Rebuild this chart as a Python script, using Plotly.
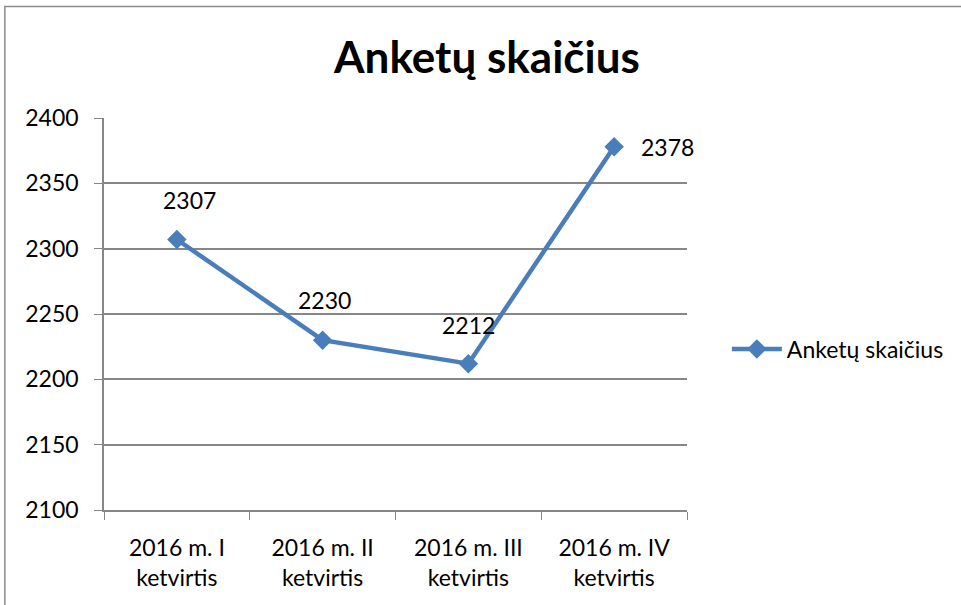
import plotly.graph_objects as go

categories = ["2016 m. I<br>ketvirtis", "2016 m. II<br>ketvirtis", "2016 m. III<br>ketvirtis", "2016 m. IV<br>ketvirtis"]
values = [2307, 2230, 2212, 2378]
series_name = "Anketų skaičius"
title_text = "Anketų skaičius"
y_ticks = [2100, 2150, 2200, 2250, 2300, 2350, 2400]

FONT = "Lato"
FS = 23
BLUE = "#4A7EBB"
GRID = "#878787"

L, R, T, B = 104, 689, 118, 510
W, H = 961, 605

def px(x):
    return (x - L) / (R - L)

def py(y):
    return (B - y) / (B - T)

fig = go.Figure()
fig.add_trace(go.Scatter(
    x=categories, y=values, mode="lines+markers", name=series_name,
    line=dict(color=BLUE, width=4.5),
    marker=dict(symbol="diamond", size=15, color=BLUE),
))

shifts = [(13, 40), (2, 40), (0, 39), (53, 0)]
for c, v, (dx, dy) in zip(categories, values, shifts):
    fig.add_annotation(x=c, y=v, text=str(v), showarrow=False,
                       xshift=dx, yshift=dy,
                       font=dict(family=FONT, size=FS, color="black"))

fig.add_shape(type="rect", xref="paper", yref="paper",
              x0=px(4.5), x1=px(990), y0=py(630), y1=py(6.5),
              line=dict(color="#8C8C8C", width=1.5), fillcolor="rgba(0,0,0,0)")

fig.update_layout(
    width=W, height=H,
    margin=dict(l=L, r=W - R, t=T, b=H - B),
    paper_bgcolor="white", plot_bgcolor="white",
    font=dict(family=FONT, size=FS, color="black"),
    title=dict(text="<b>" + title_text + "</b>", xref="container", x=487 / W, xanchor="center",
               yref="container", y=1 - 58 / H, yanchor="middle",
               font=dict(family=FONT, size=44, color="black")),
    showlegend=True,
    legend=dict(x=px(729), xanchor="left", y=py(349), yanchor="middle",
                itemwidth=50,
                font=dict(family=FONT, size=FS), bgcolor="rgba(0,0,0,0)"),
    xaxis=dict(range=[-0.5, 3.5], showgrid=False, showline=True, linecolor=GRID, linewidth=1.5,
               ticks="outside", ticklen=8, tickcolor=GRID, tickson="boundaries",
               ticklabelstandoff=17,
               tickfont=dict(family=FONT, size=FS), fixedrange=True),
    yaxis=dict(range=[2100, 2400], tickvals=y_ticks, showgrid=True,
               gridcolor=GRID, gridwidth=1.5, showline=True, linecolor=GRID,
               linewidth=1.5, ticks="outside", ticklen=8, tickcolor=GRID,
               ticklabelstandoff=11,
               tickfont=dict(family=FONT, size=FS), zeroline=False),
)

fig.write_html("out.html", config={"displayModeBar": False},
               post_script="document.body.style.margin='0';")
